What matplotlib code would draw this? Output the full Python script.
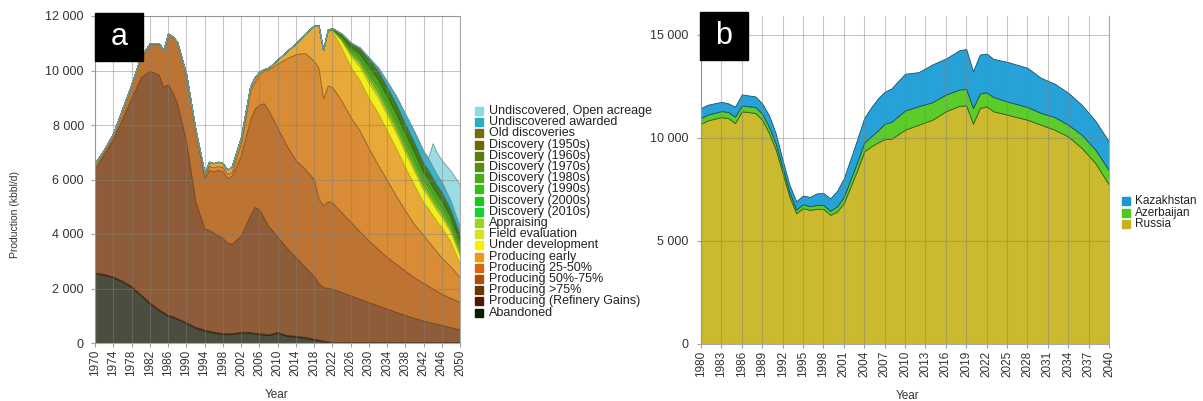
import matplotlib
matplotlib.use('Agg')
import matplotlib.pyplot as plt
from matplotlib.patches import Rectangle
from matplotlib.ticker import FuncFormatter
import matplotlib.colors as mcolors

plt.rcParams['font.family'] = ['Liberation Sans', 'DejaVu Sans']

# ---------------- panel a data (kbbl/d) ----------------
years_a = [1970, 1972, 1974, 1976, 1978, 1980, 1982, 1984, 1985, 1986, 1987, 1988,
           1990, 1992, 1994, 1995, 1996, 1997, 1998, 1999,
           2000, 2002, 2004, 2005, 2006, 2007, 2008,
           2010, 2012, 2014, 2016, 2018, 2019,
           2020, 2021, 2022, 2024, 2026, 2028,
           2030, 2032, 2034, 2036, 2038,
           2040, 2042, 2043, 2044, 2045, 2046, 2048, 2050]

abandoned = [2550, 2500, 2400, 2250, 2050, 1750, 1450, 1200, 1100, 1000, 950, 880,
             720, 560, 450, 420, 380, 350, 330, 320,
             330, 380, 370, 340, 330, 300, 290,
             370, 260, 230, 190, 120, 90,
             50, 20, 0, 0, 0, 0,
             0, 0, 0, 0, 0,
             0, 0, 0, 0, 0, 0, 0, 0]
refinery_gains = [40, 40, 40, 40, 40, 40, 40, 40, 40, 40, 40, 40,
                  40, 40, 40, 40, 40, 40, 40, 40,
                  40, 40, 40, 40, 40, 40, 40,
                  40, 40, 40, 40, 40, 40,
                  40, 40, 40, 40, 40, 40,
                  40, 40, 40, 40, 40,
                  40, 40, 40, 40, 40, 40, 40, 40]
prod_75 = [3810, 4410, 5060, 5960, 6910, 7960, 8510, 8610, 8260, 8460, 8210, 7880,
           6640, 4600, 3710, 3690, 3630, 3560, 3480, 3320,
           3280, 3530, 4290, 4620, 4530, 4260, 3970,
           3490, 3200, 2880, 2570, 2290, 2070,
           1960, 1960, 1960, 1830, 1710, 1580,
           1460, 1340, 1220, 1100, 990,
           880, 780, 740, 700, 660, 620, 540, 460]
prod_50_75 = [200, 150, 200, 350, 500, 750, 1000, 1150, 1350, 1850, 2050, 2250,
              2400, 2600, 1850, 2200, 2250, 2400, 2450, 2370,
              2500, 2950, 3500, 3600, 3850, 4200, 4250,
              4000, 3750, 3550, 3600, 3550, 3100,
              3000, 3180, 3150, 2930, 2700, 2480,
              2250, 2070, 1890, 1760, 1620,
              1480, 1380, 1320, 1260, 1200, 1140, 1070, 1000]
prod_25_50 = [0, 0, 0, 0, 0, 0, 0, 0, 0, 0, 0, 0,
              50, 50, 100, 150, 150, 150, 150, 150,
              150, 450, 1050, 1000, 1100, 1200, 1500,
              2350, 3200, 3900, 4250, 4350, 4800,
              3930, 4250, 4250, 4100, 3850, 3700,
              3400, 3100, 2830, 2500, 2210,
              1950, 1760, 1650, 1540, 1430, 1330, 1150, 900]
prod_early = [0, 0, 0, 0, 0, 0, 0, 0, 0, 0, 0, 0,
              0, 0, 80, 150, 150, 150, 150, 150,
              200, 200, 150, 150, 100, 50, 50,
              150, 250, 400, 700, 1300, 1550,
              1770, 2050, 2050, 1950, 1850, 1850,
              1850, 1900, 1820, 1750, 1590,
              1450, 1190, 1200, 1160, 1120, 1120, 900, 500]

# layers that only exist from 2020 on (years_a[33:])
under_dev = [0, 0, 50, 250, 400, 500, 550, 580, 580, 560, 540, 500, 460, 440, 420, 400, 380, 350, 300]
field_eval = [0, 0, 0, 40, 80, 100, 120, 120, 120, 120, 115, 110, 100, 100, 95, 95, 95, 90, 90]
appraising = [0, 0, 0, 20, 50, 80, 100, 100, 100, 100, 95, 90, 90, 90, 85, 85, 85, 80, 80]
disc_2010s = [0, 0, 15, 40, 70, 100, 130, 150, 160, 170, 170, 170, 160, 155, 150, 150, 145, 130, 120]
disc_2000s = [0, 0, 10, 30, 55, 75, 100, 110, 120, 130, 130, 130, 120, 115, 115, 110, 110, 100, 90]
disc_1990s = [0, 0, 10, 30, 50, 75, 95, 110, 120, 125, 125, 125, 120, 115, 115, 110, 105, 100, 90]
disc_1980s = [0, 0, 5, 25, 40, 60, 80, 90, 95, 100, 100, 100, 95, 95, 90, 90, 85, 80, 70]
disc_1970s = [0, 0, 10, 35, 60, 85, 110, 130, 140, 150, 150, 150, 140, 140, 135, 130, 125, 115, 105]
disc_1960s = [0, 0, 5, 20, 35, 50, 65, 75, 80, 85, 85, 85, 80, 80, 75, 75, 75, 65, 60]
disc_1950s = [0, 0, 0, 10, 20, 25, 35, 40, 40, 45, 45, 45, 40, 40, 40, 40, 40, 35, 30]
old_disc = [0, 0, 5, 10, 20, 30, 35, 45, 45, 45, 45, 45, 45, 40, 40, 35, 35, 35, 35]
undisc_awarded = [0, 0, 0, 0, 0, 20, 60, 120, 200, 280, 350, 400, 430, 440, 420, 400, 380, 330, 280]
undisc_open = [0, 0, 0, 0, 0, 0, 0, 0, 0, 0, 0, 0, 0, 0, 850, 800, 800, 1100, 1550]

labels_a = ["Abandoned", "Producing (Refinery Gains)", "Producing >75%", "Producing 50%-75%",
            "Producing 25-50%", "Producing early", "Under development", "Field evaluation",
            "Appraising", "Discovery (2010s)", "Discovery (2000s)", "Discovery (1990s)",
            "Discovery (1980s)", "Discovery (1970s)", "Discovery (1960s)", "Discovery (1950s)",
            "Old discoveries", "Undiscovered awarded", "Undiscovered, Open acreage"]

# ---------------- panel b data (kbbl/d) ----------------
years_b = [1980, 1981, 1983, 1984, 1985, 1986, 1988, 1989,
           1990, 1991, 1992, 1993, 1994, 1995, 1996, 1997, 1998, 1999,
           2000, 2001, 2002, 2003, 2004, 2005, 2006, 2007, 2008,
           2010, 2012, 2014, 2016, 2018, 2019,
           2020, 2021, 2022, 2023, 2025, 2028,
           2030, 2032, 2034, 2036, 2038, 2040]
russia = [10680, 10840, 11000, 10950, 10710, 11280, 11200, 10870,
          10230, 9420, 8280, 7150, 6340, 6590, 6500, 6550, 6550, 6260,
          6420, 6830, 7640, 8450, 9340, 9580, 9770, 9930, 9950,
          10390, 10630, 10870, 11280, 11550, 11570,
          10680, 11440, 11520, 11280, 11120, 10870,
          10630, 10390, 10060, 9500, 8770, 7720]
azerbaijan = [270, 280, 290, 300, 310, 280, 290, 300,
              300, 280, 260, 220, 180, 190, 180, 190, 190, 200,
              250, 300, 350, 400, 420, 480, 580, 750, 820,
              930, 900, 850, 810, 790, 790,
              760, 700, 680, 690, 640, 620,
              570, 610, 570, 640, 650, 690]
kazakhstan = [490, 480, 450, 420, 480, 540, 510, 490,
              560, 500, 380, 350, 400, 420, 450, 560, 580, 600,
              750, 900, 1000, 1100, 1200, 1400, 1550, 1550, 1620,
              1780, 1650, 1830, 1750, 1900, 1940,
              1780, 1890, 1880, 1850, 1920, 1900,
              1700, 1620, 1550, 1450, 1400, 1400]
labels_b = ["Russia", "Azerbaijan", "Kazakhstan"]


def pad(vals):
    return [0] * (len(years_a) - len(vals)) + list(vals)


layers_a = [abandoned, refinery_gains, prod_75, prod_50_75, prod_25_50, prod_early,
            pad(under_dev), pad(field_eval), pad(appraising),
            pad(disc_2010s), pad(disc_2000s), pad(disc_1990s), pad(disc_1980s),
            pad(disc_1970s), pad(disc_1960s), pad(disc_1950s), pad(old_disc),
            pad(undisc_awarded), pad(undisc_open)]

# colours as seen in the areas, and in the legend
area_cols_a = ['#4b4e3f', '#5a3418', '#8e5c38', '#bd7433', '#d98b35', '#e8a83a',
               '#f2ee1a', '#d6dc3c', '#a8d030', '#5cc820', '#4cb81c', '#6ab82a',
               '#58a020', '#2f8a14', '#5a9a1c', '#6f8a18', '#857a1c', '#3cb4c8', '#9adce4']
edge_f_a = [0.65, 0.65, 0.65, 0.65, 0.65, 0.65,
            0.8, 0.8, 0.8, 0.8, 0.8, 0.8, 0.8, 0.8, 0.8, 0.8, 0.8, 0.7, 0.7]
leg_cols_a = ['#101808', '#501800', '#703008', '#b04c08', '#d86810', '#f09818',
              '#f8f000', '#d4e030', '#98d818', '#18d030', '#18c818', '#3cbc18',
              '#4ea818', '#5a8a10', '#5e7a08', '#6a6a08', '#7a6a08', '#20b0c8', '#8fd8e0']
area_cols_b = ['#cbb92e', '#5ccc2a', '#27a2d8']
leg_cols_b = ['#c8b020', '#50c820', '#1a96d4']

W, H = 1203, 401
fig = plt.figure(figsize=(W / 100, H / 100), dpi=100)

fmt = FuncFormatter(lambda v, p: '{:,}'.format(int(v)).replace(',', ' '))


def darker(c, f=0.65):
    r, g, b = mcolors.to_rgb(c)
    return (r * f, g * f, b * f)


def style_axes(ax):
    ax.grid(True, color='#808080', lw=0.8, alpha=0.45)
    ax.set_axisbelow(False)
    for s in ax.spines.values():
        s.set_color('#a8a8a8')
        s.set_linewidth(0.8)
    ax.tick_params(colors='#a0a0a0', labelcolor='#333333', length=3, width=0.8)
    ax.yaxis.set_major_formatter(fmt)
    for t in ax.get_xticklabels():
        t.set_rotation(90)


# ---------------- panel a ----------------
ax1 = fig.add_axes([95 / W, 1 - 343 / H, 365 / W, 327 / H])
polys = ax1.stackplot(years_a, layers_a, colors=area_cols_a, lw=0.6)
for p, c, f in zip(polys, area_cols_a, edge_f_a):
    p.set_edgecolor(darker(c, f))
ax1.set_xlim(1970, 2050)
ax1.set_ylim(0, 12000)
ax1.set_xticks(range(1970, 2051, 4))
ax1.set_yticks(range(0, 12001, 2000))
ax1.tick_params(axis='x', labelsize=8.5, pad=2)
ax1.tick_params(axis='y', labelsize=9, pad=5)
style_axes(ax1)
fig.text(277 / W, 1 - 395 / H, 'Year', fontsize=8.5, color='#333333', ha='center', va='center')
fig.text(15 / W, 1 - 214 / H, 'Production (kbbl/d)', rotation=90, fontsize=7.5,
         color='#333333', ha='center', va='center')

# ---------------- panel b ----------------
ax2 = fig.add_axes([701 / W, 1 - 344 / H, 408 / W, 328 / H])
polys = ax2.stackplot(years_b, [russia, azerbaijan, kazakhstan], colors=area_cols_b, lw=0.6)
for p, c in zip(polys, area_cols_b):
    p.set_edgecolor(darker(c, 0.5))
ax2.set_xlim(1980, 2040)
ax2.set_ylim(0, 15900)
ax2.set_xticks(range(1980, 2041, 3))
ax2.set_yticks(range(0, 15001, 5000))
ax2.tick_params(axis='x', labelsize=8.5, pad=2)
ax2.tick_params(axis='y', labelsize=9, pad=6)
style_axes(ax2)
ax2.spines['top'].set_visible(False)
fig.text(908 / W, 1 - 396 / H, 'Year', fontsize=8.5, color='#333333', ha='center', va='center')

# ---------------- legends drawn as boxes + text ----------------
for i, (lab, c) in enumerate(zip(labels_a[::-1], leg_cols_a[::-1])):
    yc = 111 + i * 11.2
    fig.patches.append(Rectangle((475 / W, 1 - (yc + 4) / H), 8 / W, 8 / H,
                                 transform=fig.transFigure, color=c))
    fig.text(489 / W, 1 - yc / H, lab, fontsize=9, color='#222222', va='center')

for i, (lab, c) in enumerate(zip(labels_b[::-1], leg_cols_b[::-1])):
    yc = 201 + i * 11.6
    fig.patches.append(Rectangle((1122 / W, 1 - (yc + 4) / H), 8 / W, 8 / H,
                                 transform=fig.transFigure, color=c))
    fig.text(1135 / W, 1 - yc / H, lab, fontsize=8.5, color='#222222', va='center')

# ---------------- panel letters ----------------
for x0, y0, letter in [(95, 13, 'a'), (700, 12, 'b')]:
    fig.patches.append(Rectangle((x0 / W, 1 - (y0 + 48) / H), 48 / W, 48 / H,
                                 transform=fig.transFigure, color='black', zorder=10))
    fig.text((x0 + 24) / W, 1 - (y0 + 24) / H, letter, fontsize=22, color='white',
             ha='center', va='center', zorder=11)

fig.savefig('out.png', dpi=100)
